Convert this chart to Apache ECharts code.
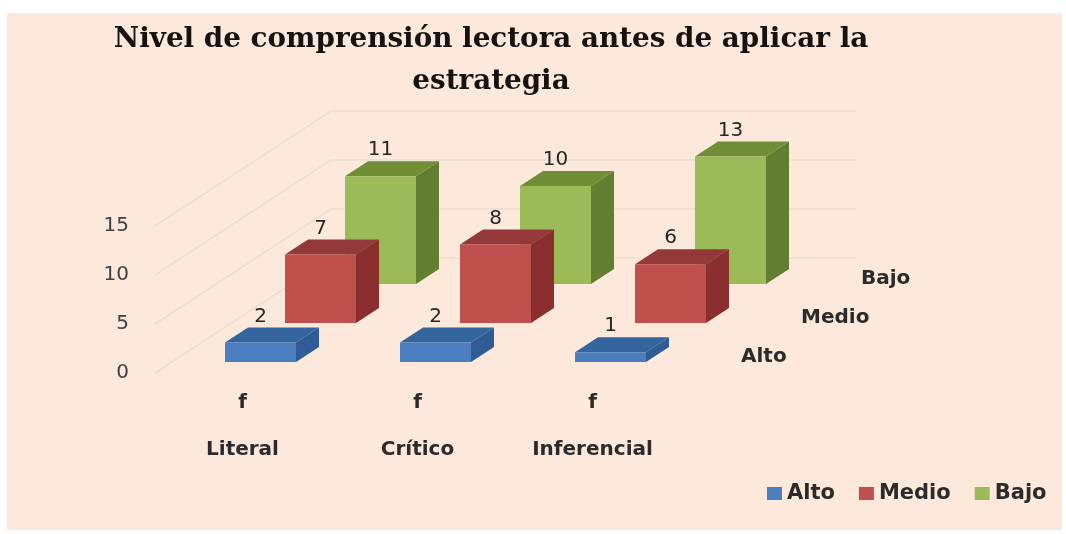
<!DOCTYPE html>
<html>
<head>
<meta charset="utf-8">
<style>
  html, body { margin: 0; padding: 0; background: #fff; }
  #chart { width: 1066px; height: 534px; }
</style>
<script src="https://cdn.jsdelivr.net/npm/echarts@6/dist/echarts.min.js"></script>
</head>
<body>
<div id="chart"></div>
<script>
const categories = ["Literal", "Crítico", "Inferencial"];
const alto = [2, 2, 1];
const medio = [7, 8, 6];
const bajo = [11, 10, 13];
const yTicks = [0, 5, 10, 15];
const depthNames = ["Alto", "Medio", "Bajo"];

// fake 3d: every row sits further back by a fixed screen offset
const WALL_DX = 176, WALL_DY = 115;
const ROW_DX = 60, ROW_DY = 39;
const FIRST_DX = 18, FIRST_DY = 11;
const BAR_W = 71, BAR_DX = 23, BAR_DY = 15;
const SANS = '"DejaVu Sans", sans-serif';

const palette = [
  { front: "#4A7EBF", side: "#2F5C94", top: "#35659E" },
  { front: "#C0504D", side: "#8A2F2D", top: "#94383A" },
  { front: "#9BBB59", side: "#627E30", top: "#6F8E36" },
];

function poly(points, fill) {
  return { type: "polygon", shape: { points }, style: { fill } };
}

function barRenderer(row) {
  const c = palette[row];
  return (params, api) => {
    const idx = api.value(0);
    const val = api.value(1);
    const base = api.coord([idx, 0]);
    const peak = api.coord([idx, val]);
    const cx = base[0] + FIRST_DX + ROW_DX * row;
    const shift = FIRST_DY + ROW_DY * row;
    const l = cx - BAR_W / 2, r = cx + BAR_W / 2;
    const b = base[1] - shift, t = peak[1] - shift;
    return {
      type: "group",
      children: [
        poly([[r, b], [r + BAR_DX, b - BAR_DY], [r + BAR_DX, t - BAR_DY], [r, t]], c.side),
        poly([[l, t], [r, t], [r + BAR_DX, t - BAR_DY], [l + BAR_DX, t - BAR_DY]], c.top),
        poly([[l, b], [r, b], [r, t], [l, t]], c.front),
        {
          type: "text",
          style: {
            text: String(val), x: cx, y: t - BAR_DY - 11,
            align: "center", verticalAlign: "middle",
            fontFamily: SANS, fontSize: 20, fill: "#262626",
          },
        },
      ],
    };
  };
}

function barSeries(name, values, row) {
  return {
    name,
    type: "custom",
    coordinateSystem: "cartesian2d",
    z: 5 - row,
    itemStyle: { color: palette[row].front },
    encode: { x: 0, y: 1 },
    renderItem: barRenderer(row),
    data: values.map((v, i) => [i, v]),
  };
}

const wallSeries = {
  type: "custom",
  coordinateSystem: "cartesian2d",
  z: 1,
  silent: true,
  encode: { x: 0, y: 1 },
  renderItem: (params, api) => {
    const y = api.coord([0, api.value(1)])[1];
    const x0 = params.coordSys.x;
    const x1 = x0 + params.coordSys.width;
    return {
      type: "polyline",
      shape: { points: [[x0, y], [x0 + WALL_DX, y - WALL_DY], [x1 + WALL_DX, y - WALL_DY]] },
      style: { stroke: "#EBDDD0", lineWidth: 1.5, fill: null },
    };
  },
  data: yTicks.map((v) => [0, v]),
};

const depthAxisSeries = {
  type: "custom",
  coordinateSystem: "cartesian2d",
  z: 6,
  silent: true,
  encode: { x: 0, y: 1 },
  renderItem: (params, api) => {
    const row = params.dataIndex;
    const x1 = params.coordSys.x + params.coordSys.width;
    const y0 = api.coord([0, 0])[1];
    return {
      type: "text",
      style: {
        text: depthNames[row], x: x1 + 61 + ROW_DX * row, y: y0 - 16 - ROW_DY * row,
        align: "left", verticalAlign: "middle",
        fontFamily: SANS, fontSize: 20, fontWeight: "bold", fill: "#2B2B2B",
      },
    };
  },
  data: depthNames.map(() => [0, 0]),
};

const chart = echarts.init(document.getElementById("chart"));
chart.setOption({
  animation: false,
  graphic: [{
    type: "rect", z: -1, silent: true,
    shape: { x: 7, y: 13, width: 1055, height: 517 },
    style: { fill: "#FCE9DB" },
  }],
  title: {
    text: "Nivel de comprensión lectora antes de aplicar la\nestrategia",
    left: 486, top: 14, textAlign: "center",
    textStyle: {
      fontFamily: '"DejaVu Serif", serif', fontWeight: "bold",
      fontSize: 27.8, lineHeight: 42, color: "#17120F",
    },
  },
  legend: {
    data: depthNames,
    left: 762, top: 478,
    itemWidth: 15, itemHeight: 13, itemGap: 24,
    icon: "rect",
    textStyle: { fontFamily: SANS, fontSize: 21, fontWeight: "bold", color: "#2B2B2B" },
  },
  grid: { left: 155, width: 525, top: 226, height: 147 },
  xAxis: {
    type: "category",
    data: categories,
    axisLine: { show: false },
    axisTick: { show: false },
    axisLabel: {
      margin: 6,
      formatter: (v) => `{f|f}\n{c|${v}}`,
      rich: {
        f: { fontFamily: SANS, fontSize: 20, fontWeight: "bold", color: "#2B2B2B", lineHeight: 47 },
        c: { fontFamily: SANS, fontSize: 20, fontWeight: "bold", color: "#2B2B2B", lineHeight: 47 },
      },
    },
  },
  yAxis: {
    type: "value",
    min: 0, max: 15, interval: 5,
    axisLine: { show: false },
    axisTick: { show: false },
    splitLine: { show: false },
    axisLabel: { margin: 26, fontFamily: SANS, fontSize: 20, color: "#404040" },
  },
  series: [
    wallSeries,
    barSeries("Bajo", bajo, 2),
    barSeries("Medio", medio, 1),
    barSeries("Alto", alto, 0),
    depthAxisSeries,
  ],
});
</script>
</body>
</html>
